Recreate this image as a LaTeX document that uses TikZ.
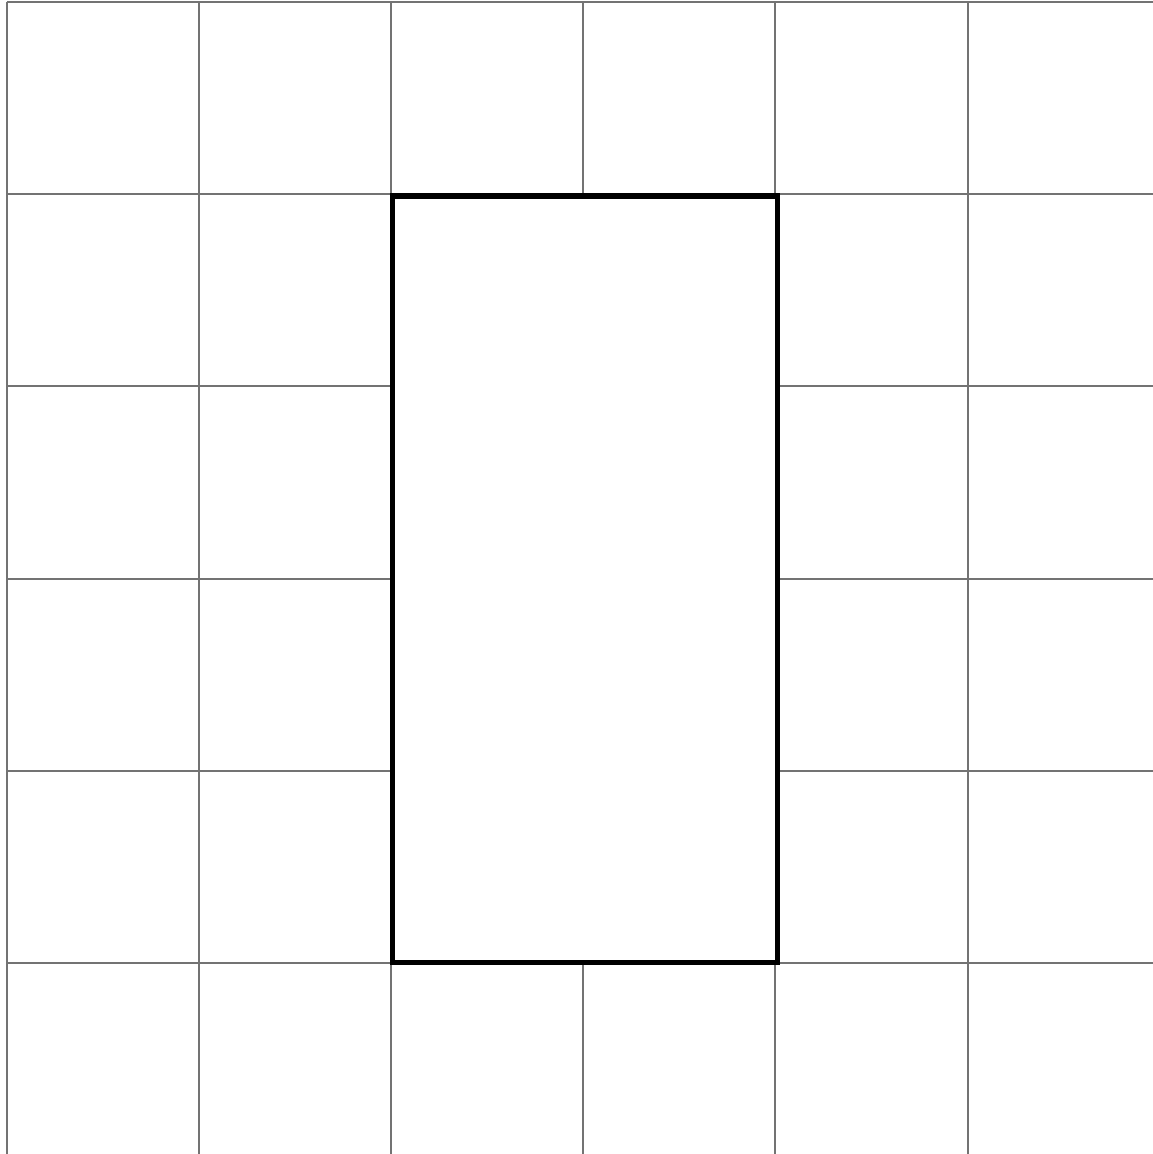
\documentclass[tikz,border=0pt]{standalone}
\usepackage{tikz}

\begin{document}
\begin{tikzpicture}
\def\n{6}

\useasboundingbox (-0.034,0.006) rectangle (5.960,6.010);

% square grid
\draw[black!55, line width=0.3pt] (0,0) grid (\n,\n);

% the 2 by 4 rectangle on top
\fill[white] (2.01,1) rectangle (4.01,4.99);
\draw[line width=0.75pt] (2.01,1) rectangle (4.01,4.99);
\end{tikzpicture}
\end{document}
